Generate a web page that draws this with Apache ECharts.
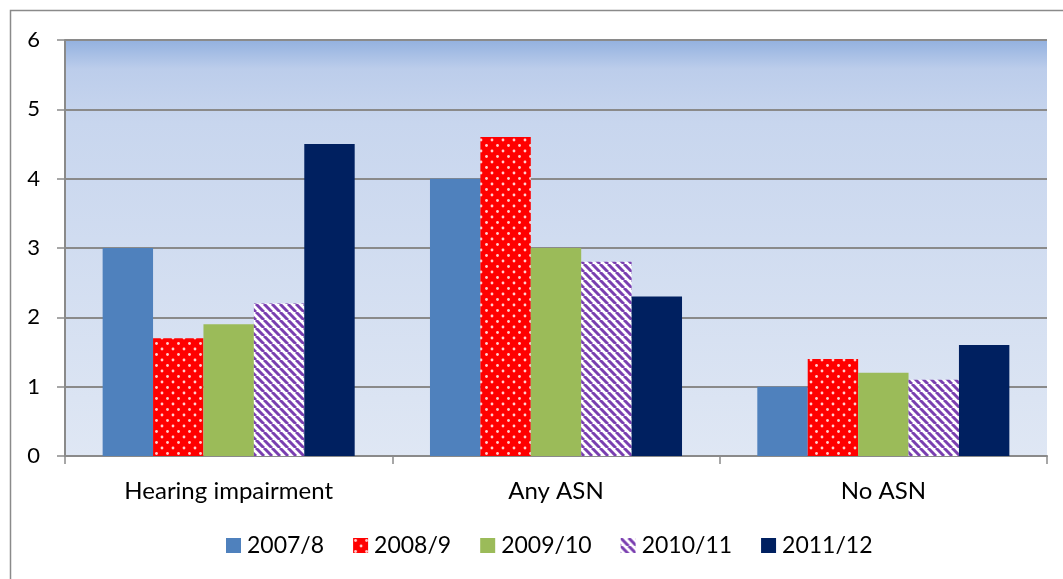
<!DOCTYPE html>
<html>
<head>
<meta charset="utf-8">
<script src="https://cdn.jsdelivr.net/npm/echarts@6/dist/echarts.min.js"></script>
<style>
  html, body { margin: 0; padding: 0; background: #fff; }
  #chart { width: 1063px; height: 579px; }
</style>
</head>
<body>
<div id="chart"></div>
<script>
// data
const categories = ['Hearing impairment', 'Any ASN', 'No ASN']
const years = ['2007/8', '2008/9', '2009/10', '2010/11', '2011/12']
const v2007 = [3, 4, 1]
const v2008 = [1.7, 4.6, 1.4]
const v2009 = [1.9, 3, 1.2]
const v2010 = [2.2, 2.8, 1.1]
const v2011 = [4.5, 2.3, 1.6]
const yTicks = [0, 1, 2, 3, 4, 5, 6]

// red with small white dots
function dotPattern() {
  const c = document.createElement('canvas')
  c.width = 11; c.height = 11
  const ctx = c.getContext('2d')
  ctx.fillStyle = '#ff0000'
  ctx.fillRect(0, 0, 11, 11)
  ctx.fillStyle = '#ffd0d0'
  ctx.beginPath(); ctx.arc(2.5, 2.5, 1.4, 0, Math.PI * 2); ctx.fill()
  ctx.beginPath(); ctx.arc(8, 8, 1.4, 0, Math.PI * 2); ctx.fill()
  return c
}

// purple diagonal stripes on white
function stripePattern() {
  const s = 8
  const c = document.createElement('canvas')
  c.width = s; c.height = s
  const ctx = c.getContext('2d')
  ctx.fillStyle = '#ffffff'
  ctx.fillRect(0, 0, s, s)
  ctx.strokeStyle = '#7a3fb0'
  ctx.lineWidth = 3
  for (let k = -1; k <= 1; k++) {
    ctx.beginPath()
    ctx.moveTo(k * s, 0)
    ctx.lineTo(k * s + s, s)
    ctx.stroke()
  }
  return c
}

const colors = [
  '#4f81bd',
  { image: dotPattern(), repeat: 'repeat' },
  '#9bbb59',
  { image: stripePattern(), repeat: 'repeat' },
  '#002060'
]
const values = [v2007, v2008, v2009, v2010, v2011]

const chart = echarts.init(document.getElementById('chart'))
const font = 'Lato, "Open Sans", sans-serif'

chart.setOption({
  animation: false,
  backgroundColor: '#fff',
  graphic: [{
    type: 'rect',
    shape: { x: 10.5, y: 10.5, width: 1070, height: 600 },
    style: { fill: 'none', stroke: '#8a8a8a', lineWidth: 1.5 },
    silent: true
  }],
  grid: {
    left: 65, right: 16, top: 40, bottom: 123,
    show: true,
    borderWidth: 0,
    backgroundColor: {
      type: 'linear', x: 0, y: 0, x2: 0, y2: 1,
      colorStops: [
        { offset: 0, color: '#93b1df' },
        { offset: 0.07, color: '#bccdeb' },
        { offset: 0.2, color: '#c8d6ee' },
        { offset: 1, color: '#dfe7f4' }
      ]
    }
  },
  legend: {
    top: 534,
    left: 226,
    padding: 0,
    itemWidth: 15,
    itemHeight: 15,
    itemGap: 29,
    icon: 'rect',
    textStyle: { fontFamily: font, fontSize: 23, color: '#000', padding: [0, 0, 0, 1] },
    data: years
  },
  xAxis: {
    type: 'category',
    data: categories,
    axisLine: { lineStyle: { color: '#8a8a8a', width: 2 } },
    axisTick: { show: true, length: 8, lineStyle: { color: '#8a8a8a', width: 1.5 } },
    axisLabel: { fontFamily: font, fontSize: 24, color: '#000', margin: 23 }
  },
  yAxis: {
    type: 'value',
    min: yTicks[0],
    max: yTicks[yTicks.length - 1],
    interval: 1,
    axisLine: { show: true, lineStyle: { color: '#8a8a8a', width: 2 } },
    axisTick: { show: true, length: 8, lineStyle: { color: '#8a8a8a', width: 1.5 } },
    splitLine: { lineStyle: { color: '#8a8a8a', width: 2 } },
    axisLabel: { fontFamily: font, fontSize: 22, color: '#000', margin: 25 }
  },
  series: years.map((y, i) => ({
    name: y,
    type: 'bar',
    data: values[i],
    barGap: '0%',
    barCategoryGap: '23%',
    itemStyle: { color: colors[i] }
  }))
})
</script>
</body>
</html>
